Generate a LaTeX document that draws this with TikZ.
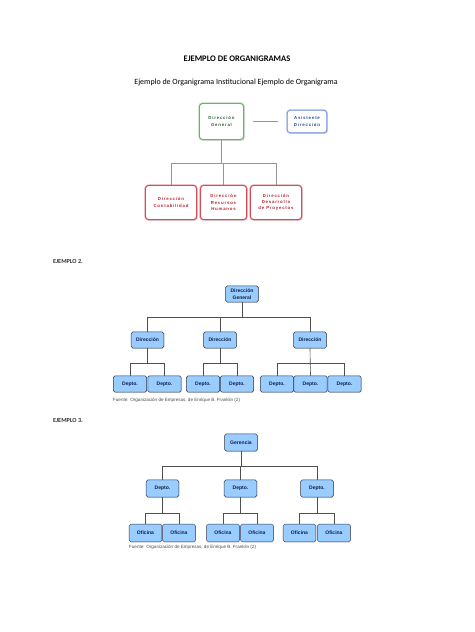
\documentclass[tikz,border=0pt]{standalone}
\usepackage{fontspec}
\setmainfont{Carlito}
\newfontfamily\arialf{Liberation Sans}
\newfontfamily\spacedf[LetterSpace=18]{Liberation Sans}
\usetikzlibrary{shadows}
\definecolor{greenbd}{RGB}{100,185,100}
\definecolor{bluebd}{RGB}{110,140,215}
\definecolor{redbd}{RGB}{215,75,85}
\definecolor{gtext}{RGB}{50,95,60}
\definecolor{btext}{RGB}{40,70,150}
\definecolor{rtext}{RGB}{185,35,45}
\definecolor{boxfill}{RGB}{153,204,255}
\definecolor{boxdraw}{RGB}{50,55,70}
\definecolor{conndark}{RGB}{80,80,80}
\definecolor{conngray}{RGB}{150,150,150}
\definecolor{ntext}{RGB}{20,30,70}
\tikzset{
  topbox/.style={draw=#1, line width=1.3pt, fill=white, rounded corners=4pt,
    align=center, inner sep=1pt,
    preaction={draw=#1!35, line width=3pt},
    drop shadow={shadow xshift=1.5pt, shadow yshift=-1.5pt, fill=black!25, opacity=0.6},
    font=\spacedf\bfseries\fontsize{5.6}{8}\selectfont},
  bluebox/.style={draw=boxdraw, line width=0.65pt, fill=boxfill, rounded corners=2pt,
    align=center, inner sep=0.5pt, text=ntext,
    drop shadow={shadow xshift=0.7pt, shadow yshift=-0.7pt, fill=black!30, opacity=0.5},
    minimum width=42pt, minimum height=21pt,
    font=\arialf\bfseries\fontsize{6.5}{8.5}\selectfont},
  tconn/.style={draw=conngray, line width=0.9pt},
  dconn/.style={draw=conndark, line width=0.8pt},
  heading/.style={font=\bfseries\fontsize{8}{9}\selectfont, text=black!80, anchor=west, inner sep=0pt},
  footn/.style={font=\arialf\fontsize{5.9}{6.5}\selectfont, text=black!70, anchor=west, inner sep=0pt}
}
\begin{document}
\begin{tikzpicture}[x=1.2911pt, y=-1.2911pt]
\useasboundingbox (0,0) rectangle (474,632);
\fill[white] (0,0) rectangle (474,632);

% Titles
\node[font=\bfseries\fontsize{11}{13}\selectfont, inner sep=0pt] (title) at (237,59) {EJEMPLO DE ORGANIGRAMAS};
\node[font=\fontsize{10.3}{12}\selectfont, inner sep=0pt] (sub) at (236,82) {Ejemplo de Organigrama Institucional Ejemplo de Organigrama};

% ---------- Example 1 ----------
\node[topbox=greenbd, text=gtext, minimum width=57pt, minimum height=46.5pt] (dg) at (221.5,121.5) {Dirección\\General};
\node[topbox=bluebd, text=btext, minimum width=51pt, minimum height=29pt, line width=1pt] (ad) at (307,121.5) {Asistente\\Dirección};
\node[topbox=redbd, text=rtext, minimum width=66pt, minimum height=44pt] (dc) at (171,202.5) {Dirección\\Contabilidad};
\node[topbox=redbd, text=rtext, minimum width=59.5pt, minimum height=44pt] (drh) at (223.5,202.5) {Dirección\\Recursos\\Humanos};
\node[topbox=redbd, text=rtext, minimum width=66pt, minimum height=44pt] (ddp) at (276,202.5) {Dirección\\Desarrollo\\de Proyectos};

\draw[tconn] ([xshift=12pt]dg.east) -- ([xshift=-12pt]ad.west);
\draw[tconn] (dg.south) -- (dg.south |- 0,163);
\draw[tconn] (dc.north) -- (dc.north |- 0,163) -- (ddp.north |- 0,163) -- (ddp.north);
\draw[tconn] (drh.north) -- (drh.north |- 0,163);

% ---------- Example 2 ----------
\node[heading] (ej2) at (53,261) {EJEMPLO 2.};
\node[bluebox] (g2) at (242,294) {Dirección\\General};
\node[bluebox] (d1) at (147.5,340) {Dirección};
\node[bluebox] (d2) at (220,340) {Dirección};
\node[bluebox] (d3) at (310,340) {Dirección};
\node[bluebox, minimum width=43pt] (p1) at (130,384) {Depto.};
\node[bluebox, minimum width=43pt] (p2) at (164.5,384) {Depto.};
\node[bluebox, minimum width=43pt] (p3) at (203,384) {Depto.};
\node[bluebox, minimum width=43pt] (p4) at (237,384) {Depto.};
\node[bluebox, minimum width=43pt] (p5) at (277,384) {Depto.};
\node[bluebox, minimum width=43pt] (p6) at (310.5,384) {Depto.};
\node[bluebox, minimum width=43pt] (p7) at (344.5,384) {Depto.};
\node[footn] (f2) at (113,400) {Fuente: Organización de Empresas, de Enrique B. Franklin (2)};

\foreach \c in {d1,d2,d3} \draw[dconn] (g2.south) -- (g2.south |- 0,317) -| (\c.north);
\draw[dconn] (d1.south) -- (d1.south |- 0,363) -| (p1.north);
\draw[dconn] (d1.south |- 0,363) -| (p2.north);
\draw[dconn] (d2.south) -- (d2.south |- 0,363) -| (p3.north);
\draw[dconn] (d2.south |- 0,363) -| (p4.north);
\draw[dconn] (d3.south) -- (p6.north);
\draw[dconn] (p5.north) |- (0,363 -| p7.north) -- (p7.north);

% ---------- Example 3 ----------
\node[heading] (ej3) at (53,420) {EJEMPLO 3.};
\node[bluebox, minimum height=22pt] (g3) at (241,442.5) {Gerencia};
\node[bluebox, minimum height=22pt] (e1) at (162.5,488.5) {Depto.};
\node[bluebox, minimum height=22pt] (e2) at (240.5,488.5) {Depto.};
\node[bluebox, minimum height=22pt] (e3) at (317,488.5) {Depto.};
\node[bluebox, minimum height=23pt] (o1) at (145.5,533) {Oficina};
\node[bluebox, minimum height=23pt] (o2) at (179,533) {Oficina};
\node[bluebox, minimum height=23pt] (o3) at (223,533) {Oficina};
\node[bluebox, minimum height=23pt] (o4) at (257,533) {Oficina};
\node[bluebox, minimum height=23pt] (o5) at (299.5,533) {Oficina};
\node[bluebox, minimum height=23pt] (o6) at (334,533) {Oficina};
\node[footn] (f3) at (129,547) {Fuente: Organización de Empresas, de Enrique B. Franklin (2)};

\foreach \c in {e1,e2,e3} \draw[dconn] (g3.south) -- (g3.south |- 0,466) -| (\c.north);
\draw[dconn] (e1.south) -- (e1.south |- 0,513);
\draw[dconn] (o1.north) |- (0,513 -| o2.north) -- (o2.north);
\draw[dconn] (e2.south) -- (e2.south |- 0,513);
\draw[dconn] (o3.north) |- (0,513 -| o4.north) -- (o4.north);
\draw[dconn] (e3.south) -- (e3.south |- 0,513);
\draw[dconn] (o5.north) |- (0,513 -| o6.north) -- (o6.north);
\end{tikzpicture}
\end{document}
